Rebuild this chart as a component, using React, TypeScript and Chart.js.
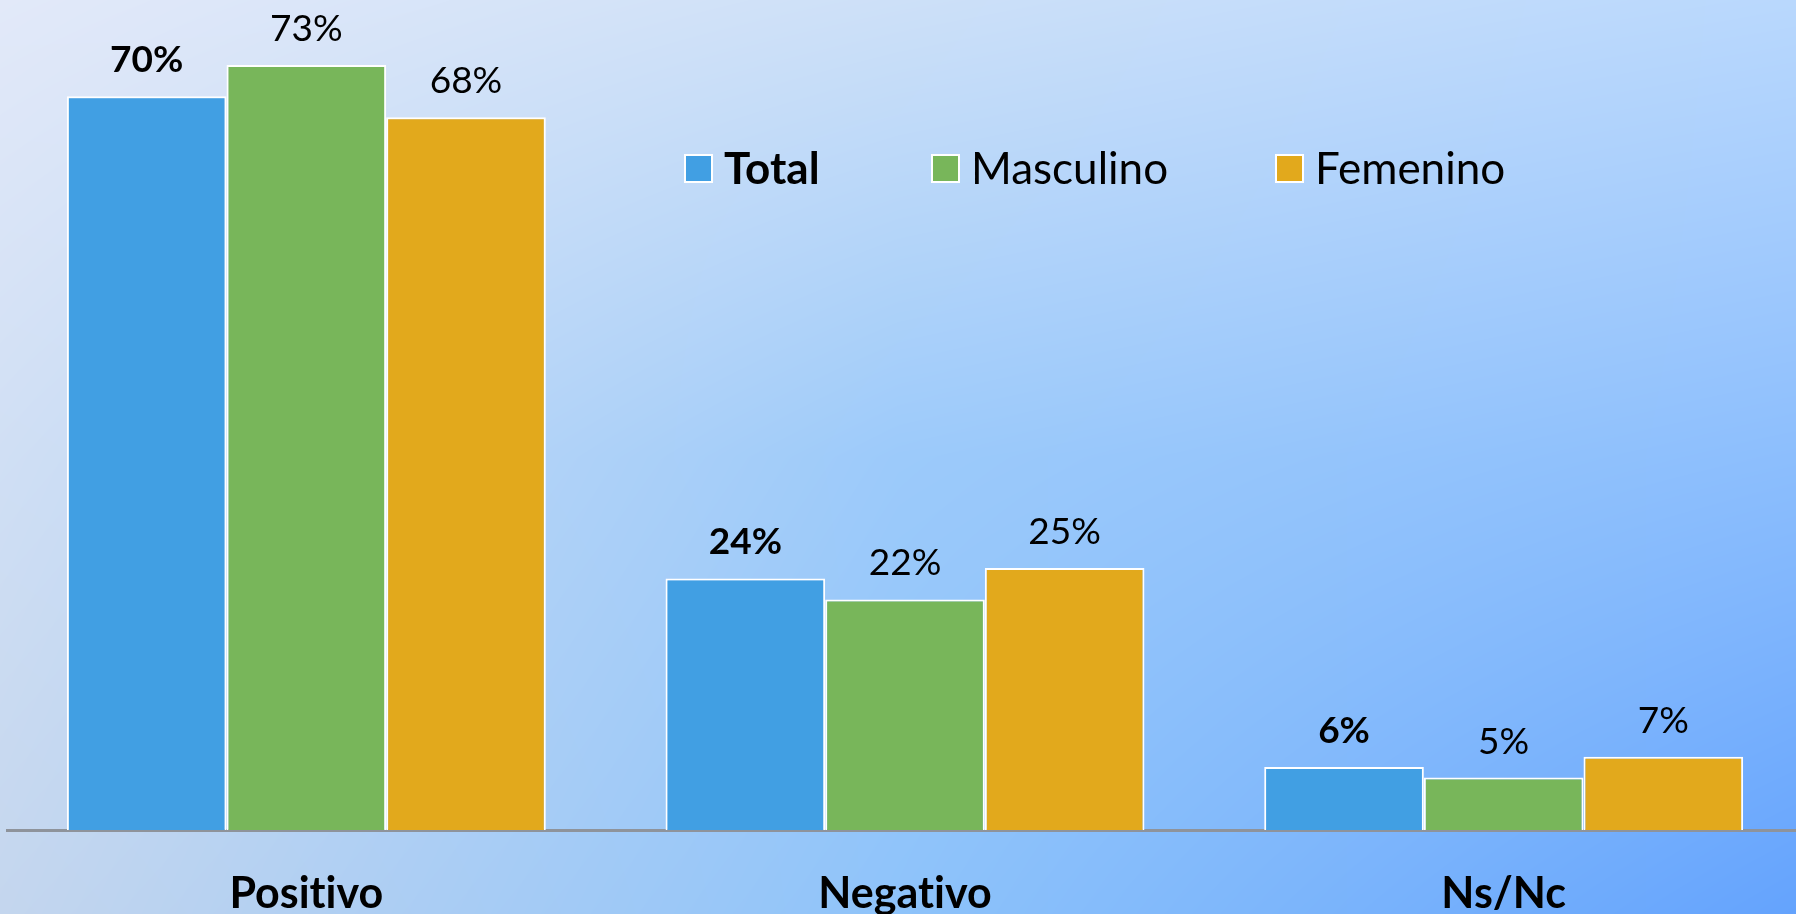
import React, { useEffect, useRef } from "react";
import { Chart, registerables } from "chart.js";

Chart.register(...registerables);

const categories = ["Positivo", "Negativo", "Ns/Nc"];
const seriesNames = ["Total", "Masculino", "Femenino"];
const totalValues = [70, 24, 6];
const masculinoValues = [73, 22, 5];
const femeninoValues = [68, 25, 7];
const seriesColors = ["#419fe3", "#78b65a", "#e2a91c"];

const W = 1796;
const H = 914;
const CANVAS_W = 1810;

// 3x3 background colour grid (rows top->bottom, cols left->right)
const bgGrid = [
  [[226, 233, 249], [205, 224, 248], [185, 216, 253]],
  [[208, 223, 244], [156, 202, 250], [140, 190, 253]],
  [[196, 214, 238], [142, 195, 250], [100, 163, 253]],
];

function makeBackground(): HTMLCanvasElement {
  const c = document.createElement("canvas");
  c.width = CANVAS_W;
  c.height = H;
  const ctx = c.getContext("2d")!;
  const img = ctx.createImageData(CANVAS_W, H);
  const d = img.data;
  for (let y = 0; y < H; y++) {
    const fy = (y / (H - 1)) * 2;
    const ry = Math.min(1, Math.floor(fy));
    const ty = fy - ry;
    for (let x = 0; x < CANVAS_W; x++) {
      const fx = Math.min(2, (x / (W - 1)) * 2);
      const rx = Math.min(1, Math.floor(fx));
      const tx = fx - rx;
      const a = bgGrid[ry][rx], b = bgGrid[ry][rx + 1];
      const cc = bgGrid[ry + 1][rx], dd = bgGrid[ry + 1][rx + 1];
      const i = (y * CANVAS_W + x) * 4;
      for (let k = 0; k < 3; k++) {
        const top = a[k] + (b[k] - a[k]) * tx;
        const bot = cc[k] + (dd[k] - cc[k]) * tx;
        d[i + k] = top + (bot - top) * ty;
      }
      d[i + 3] = 255;
    }
  }
  ctx.putImageData(img, 0, 0);
  return c;
}

export default function App() {
  const ref = useRef<HTMLCanvasElement | null>(null);

  useEffect(() => {
    const canvas = ref.current!;
    const bg = makeBackground();

    const bgPlugin = {
      id: "bg",
      beforeDraw(chart: any) {
        const ctx = chart.ctx;
        try {
          ctx.textRendering = "optimizeSpeed";
        } catch (e) {}
        ctx.drawImage(bg, 0, 0);
      },
    };

    const labelPlugin = {
      id: "valueLabels",
      afterDatasetsDraw(chart: any) {
        const ctx = chart.ctx;
        ctx.save();
        ctx.fillStyle = "#000";
        ctx.textAlign = "center";
        ctx.textBaseline = "alphabetic";
        chart.data.datasets.forEach((ds: any, di: number) => {
          const meta = chart.getDatasetMeta(di);
          ctx.font = `${di === 0 ? "bold " : ""}37px Lato`;
          meta.data.forEach((el: any, i: number) => {
            ctx.fillText(`${ds.data[i]}%`, el.x, el.y - 24);
          });
        });
        ctx.restore();
      },
    };

    const legendPlugin = {
      id: "customLegend",
      afterDraw(chart: any) {
        const ctx = chart.ctx;
        const starts = [685, 932, 1276];
        const box = 27;
        const baseline = 184;
        ctx.save();
        chart.data.datasets.forEach((ds: any, i: number) => {
          const x = starts[i];
          ctx.fillStyle = ds.backgroundColor;
          ctx.fillRect(x, 155, box, box);
          ctx.strokeStyle = "#ffffff";
          ctx.lineWidth = 2;
          ctx.strokeRect(x, 155, box, box);
          ctx.fillStyle = "#000";
          ctx.font = `${i === 0 ? "bold " : ""}44px Lato`;
          ctx.textAlign = "left";
          ctx.textBaseline = "alphabetic";
          ctx.fillText(ds.label, x + box + 12, baseline);
        });
        ctx.restore();
      },
    };

    const seriesValues = [totalValues, masculinoValues, femeninoValues];

    const chart = new Chart(canvas, {
      type: "bar",
      data: {
        labels: categories,
        datasets: seriesNames.map((name, i) => ({
          label: name,
          data: seriesValues[i],
          backgroundColor: seriesColors[i],
          borderColor: "#ffffff",
          borderWidth: 2,
          categoryPercentage: 0.8,
          barPercentage: 1.0,
        })),
      },
      options: {
        responsive: false,
        animation: false,
        devicePixelRatio: 1,
        layout: { padding: { left: 7, right: 7, top: 2, bottom: 0 } },
        plugins: {
          legend: { display: false },
          tooltip: { enabled: false },
          title: { display: false },
        },
        scales: {
          x: {
            grid: { display: false, drawTicks: false },
            border: { display: true, color: "#8e939b", width: 3 },
            ticks: {
              color: "#000",
              font: { family: "Lato", size: 43, weight: "bold" },
              padding: 38,
            },
            afterFit: (s: any) => {
              s.height = 84;
            },
          },
          y: { display: false, min: 0, max: 79 },
        },
      },
      plugins: [bgPlugin, labelPlugin, legendPlugin],
    });

    if ((document as any).fonts) {
      Promise.all([
        document.fonts.load("bold 40px Lato"),
        document.fonts.load("40px Lato"),
      ]).then(() => chart.update());
    }

    return () => chart.destroy();
  }, []);

  return (
    <div
      style={{
        position: "fixed",
        left: 0,
        top: 0,
        width: W,
        height: H,
        overflow: "hidden",
      }}
    >
      <canvas
        ref={ref}
        width={CANVAS_W}
        height={H}
        style={{ width: CANVAS_W, height: H, display: "block" }}
      />
    </div>
  );
}
